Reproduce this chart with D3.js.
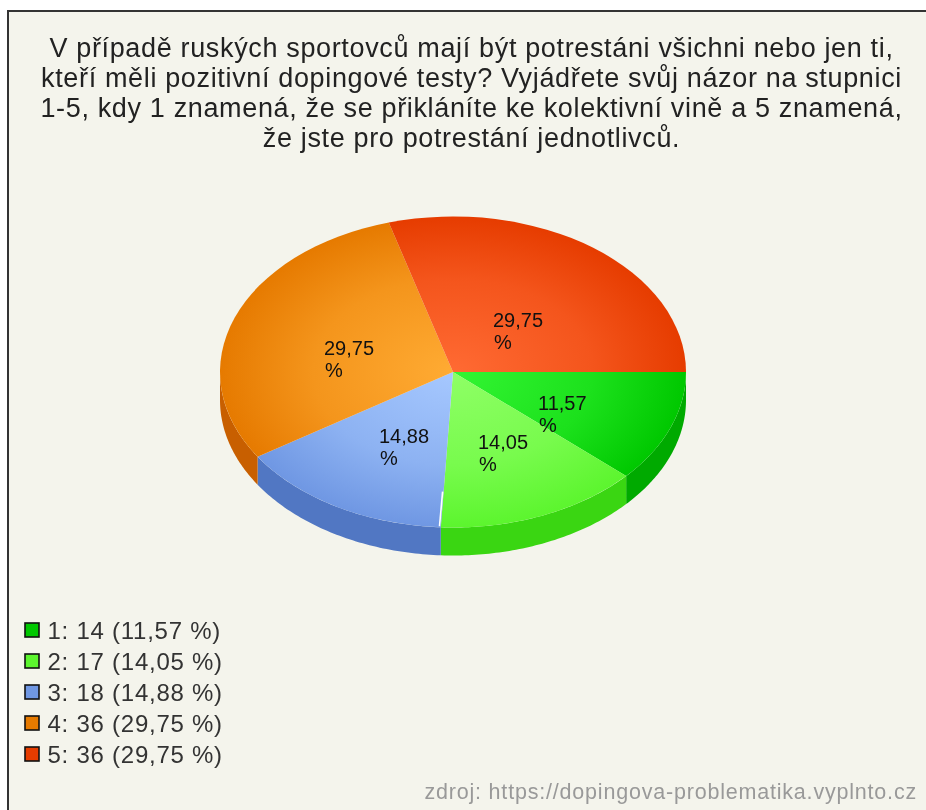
<!DOCTYPE html>
<html><head><meta charset="utf-8">
<script src="https://cdn.jsdelivr.net/npm/d3@7"></script>
<style>html,body{margin:0;padding:0;background:#fff;overflow:hidden}svg{display:block}text{font-family:"Liberation Sans",Arial,sans-serif}</style>
</head><body><svg id="c" width="926" height="810"></svg>
<script>
const titleLines=["V případě ruských sportovců mají být potrestáni všichni nebo jen ti,","kteří měli pozitivní dopingové testy? Vyjádřete svůj názor na stupnici","1-5, kdy 1 znamená, že se přikláníte ke kolektivní vině a 5 znamená,","že jste pro potrestání jednotlivců."];
const categories=["1","2","3","4","5"];
const counts=[14,17,18,36,36];
const percents=["11,57","14,05","14,88","29,75","29,75"];
const centerColors=["#33f533","#8fff66","#a6c8ff","#ffab33","#ff6a33"];
const edgeColors=["#00c800","#5cf52e","#6f97e3","#e67a00","#e63c00"];
const sideColors=["#00aa00","#3ad612","#5177c3","#c85f00","#c85f00"];
const sourceText="zdroj: https://dopingova-problematika.vyplnto.cz";

const W=926,H=810,cx=453,cy=372,rx=233,ry=155.5,depth=28;
const svg=d3.select("#c");
const root=svg.append("g").style("filter","blur(0.65px)");
root.append("rect").attr("x",8).attr("y",11).attr("width",W).attr("height",H)
  .attr("fill","#f4f4ec").attr("stroke","#333").attr("stroke-width",2);

root.append("g").selectAll("text").data(titleLines).join("text")
  .attr("x",471.5).attr("y",(d,i)=>57+i*30).attr("text-anchor","middle")
  .attr("font-size",27).attr("letter-spacing",0.65).attr("fill","#222").text(d=>d);

// the source rounds each slice to whole degrees
const total=d3.sum(counts);
const degrees=counts.map(c=>Math.round(c/total*360));
const angle=d3.scaleLinear().domain([0,360]).range([Math.PI/2,Math.PI*2.5]);
const stops=[0,...d3.cumsum(degrees)].map(v=>Math.min(v,360));
const arcs=counts.map((c,i)=>({value:c,startAngle:angle(stops[i]),endAngle:angle(stops[i+1])}));
const arc=d3.arc().innerRadius(0).outerRadius(rx);
const sa=a=>a-Math.PI/2; // pie angle -> screen angle, clockwise from east

const defs=svg.append("defs");
categories.forEach((c,i)=>{
  const g=defs.append("radialGradient").attr("id","g"+i).attr("gradientUnits","userSpaceOnUse")
    .attr("cx",0).attr("cy",0).attr("r",rx);
  g.append("stop").attr("offset",0).attr("stop-color",centerColors[i]);
  g.append("stop").attr("offset",.6).attr("stop-color",d3.interpolateRgb(centerColors[i],edgeColors[i])(.45));
  g.append("stop").attr("offset",1).attr("stop-color",edgeColors[i]);
});

// side walls: only the part of each slice facing the viewer
const walls=root.append("g").attr("transform",`translate(${cx},${cy})`);
arcs.forEach((d,i)=>{
  const a0=Math.max(sa(d.startAngle),0), a1=Math.min(sa(d.endAngle),Math.PI);
  if(a1<=a0) return;
  const pts=d3.range(0,61).map(k=>{const a=a0+(a1-a0)*k/60;return [rx*Math.cos(a),ry*Math.sin(a)];});
  const lower=pts.map(q=>[q[0],q[1]+depth]).reverse();
  walls.append("path").attr("d",d3.line()(pts.concat(lower))+"Z").attr("fill",sideColors[i]);
});

const face=root.append("g").attr("transform",`translate(${cx},${cy}) scale(1,${ry/rx})`);
face.selectAll("path").data(arcs).join("path").attr("d",arc).attr("fill",(d,i)=>`url(#g${i})`);

// thin white gap on the rim between slices 2 and 3
const gapA=sa(arcs[1].endAngle);
root.append("line").attr("transform",`translate(${cx},${cy})`)
  .attr("x1",.77*rx*Math.cos(gapA)-1).attr("y1",.77*ry*Math.sin(gapA))
  .attr("x2",rx*Math.cos(gapA)-1.3).attr("y2",ry*Math.sin(gapA)-1)
  .attr("stroke","#fff").attr("stroke-width",1.6);

// value labels: wrapped in two lines, as in the source
const labelPos=[[538,410],[478,449],[379,443],[324,355],[493,327]];
const labels=root.append("g");
labelPos.forEach((p,i)=>{
  labels.append("text").attr("x",p[0]).attr("y",p[1]).attr("font-size",20).attr("fill","#111").text(percents[i]);
  labels.append("text").attr("x",p[0]+1).attr("y",p[1]+22).attr("font-size",20).attr("fill","#111").text("%");
});

const legend=root.append("g").selectAll("g").data(categories).join("g")
  .attr("transform",(d,i)=>`translate(25,${623+i*31})`);
legend.append("rect").attr("width",14).attr("height",14)
  .attr("fill",(d,i)=>edgeColors[i]).attr("stroke","#111").attr("stroke-width",1.6);
legend.append("text").attr("x",22.5).attr("y",16).attr("font-size",24).attr("letter-spacing",0.75).attr("fill","#333")
  .text((d,i)=>`${d}: ${counts[i]} (${percents[i]} %)`);

root.append("text").attr("x",917).attr("y",799).attr("text-anchor","end")
  .attr("font-size",21.5).attr("letter-spacing",0.8).attr("fill","#999").text(sourceText);
</script></body></html>
